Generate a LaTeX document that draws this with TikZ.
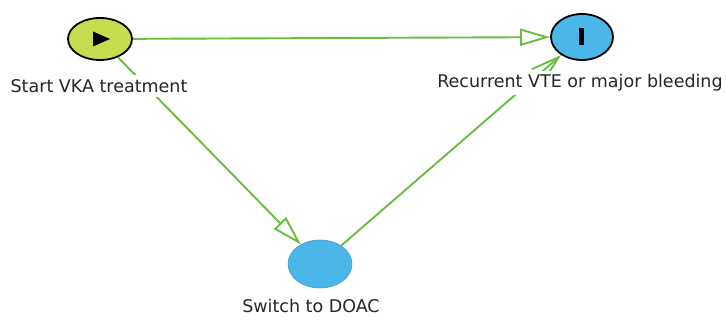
\documentclass[tikz,border=0pt]{standalone}
\usepackage{fontspec}
\setmainfont{DejaVu Sans}
\usetikzlibrary{arrows.meta,shapes.geometric}
\definecolor{lime}{RGB}{200,220,80}
\definecolor{skyb}{RGB}{75,182,232}
\definecolor{edgeg}{RGB}{104,190,64}
\begin{document}
\begin{tikzpicture}[x=1pt,y=1pt,
  state/.style={ellipse,minimum width=64pt,minimum height=44pt,inner sep=0pt},
  lbl/.style={font=\fontsize{17.5}{20}\selectfont,text=black!85,fill=white,inner xsep=1pt,inner ysep=4pt},
  conn/.style={draw=edgeg,line width=1.9pt},
  tri/.style={-{Triangle[open,length=30pt,width=17pt,fill=white]}},
  barb/.style={-{Straight Barb[length=28pt,width=17pt]}}]
\useasboundingbox (0,0) rectangle (726,320);
\node[state,fill=lime,draw=black,line width=1.8pt,minimum width=64pt,minimum height=42pt] (start) at (100,281) {};
\node[state,fill=skyb,draw=black,line width=1.8pt,minimum width=62pt,minimum height=46pt] (end) at (582,283) {};
\node[state,fill=skyb,draw=skyb!85!black,line width=0.6pt,minimum width=64pt,minimum height=48pt] (sw) at (320,56) {};
\fill[black] (93,288.5) -- (110,281) -- (93,273.5) -- cycle;
\fill[black] (579,274.5) rectangle (584,291.5);
\draw[conn,tri] (start) -- (end);
\draw[conn,tri] (start) -- (sw);
\draw[conn,barb] (sw) -- (end);
\node[lbl] (l1) at (99,234) {Start VKA treatment};
\node[lbl] (l2) at (580,237) {Recurrent VTE or major bleeding};
\node[lbl] (l3) at (311,14) {Switch to DOAC};
\end{tikzpicture}
\end{document}
